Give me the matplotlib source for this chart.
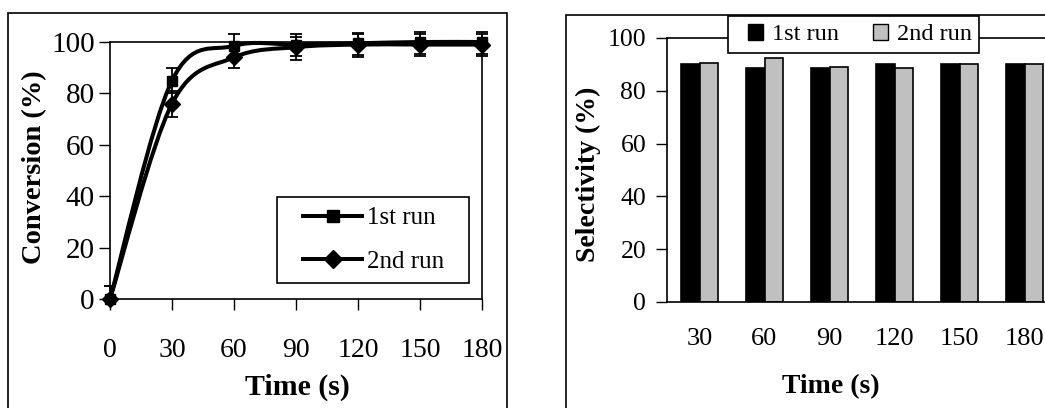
import numpy as np
import matplotlib
matplotlib.use("Agg")
import matplotlib.pyplot as plt
from matplotlib.path import Path
from matplotlib.patches import PathPatch, Rectangle, Patch
from matplotlib.lines import Line2D

plt.rcParams['font.family'] = ['Liberation Serif', 'DejaVu Serif']

# conversion data (left panel)
time_s = [0, 30, 60, 90, 120, 150, 180]
conv_run1 = [0, 85, 98.5, 99, 99.5, 100, 100]
conv_run2 = [0, 76, 94, 98, 99, 99, 99]
err1_lo = [0, 5, 4.5, 4.5, 4.5, 4.5, 4.5]
err1_hi = [5, 5, 4.5, 4, 4, 4, 4]
err2_lo = [0, 5, 4, 5, 5, 4.5, 4.5]
err2_hi = [5, 5, 4, 4, 4, 4, 4]

# selectivity data (right panel)
sel_labels = ['30', '60', '90', '120', '150', '180']
sel_run1 = [90, 88.5, 88.5, 90, 90, 90]
sel_run2 = [90.5, 92.5, 89, 88.5, 90, 90]

W, H = 1045, 408
fig = plt.figure(figsize=(W / 100, H / 100), dpi=100)


def smooth_path(xs, ys):
    # excel style smoothed line: cubic bezier through the points
    pts = np.column_stack([xs, ys]).astype(float)
    n = len(pts)
    verts = [pts[0]]
    codes = [Path.MOVETO]
    for i in range(n - 1):
        p_prev = pts[max(i - 1, 0)]
        p0 = pts[i]
        p1 = pts[i + 1]
        p_next = pts[min(i + 2, n - 1)]
        c1 = p0 + (p1 - p_prev) / 6
        c2 = p1 - (p_next - p0) / 6
        verts += [c1, c2, p1]
        codes += [Path.CURVE4] * 3
    return Path(verts, codes)


def px_axes(x0, y0, x1, y1):
    return fig.add_axes([x0 / W, 1 - y1 / H, (x1 - x0) / W, (y1 - y0) / H])


def px_box(x0, y0, x1, y1, **kw):
    # rectangle given in pixel coords (origin top left)
    r = Rectangle((x0 / W, 1 - y1 / H), (x1 - x0) / W, (y1 - y0) / H,
                  transform=fig.transFigure, ec='black', lw=1.2, clip_on=False, **kw)
    fig.patches.append(r)
    return r


# outer frames
px_box(8, 13, 507, 450, fill=False)
px_box(566, 15, 1200, 450, fill=False)

# ---- left: conversion ----
ax1 = px_axes(110, 42, 482, 299)
for ys in (conv_run1, conv_run2):
    ax1.add_patch(PathPatch(smooth_path(time_s, ys), fc='none', ec='black', lw=2.9,
                            clip_on=False, zorder=3))
ax1.errorbar(time_s, conv_run1, yerr=[err1_lo, err1_hi], fmt='s', color='black', ms=7.5,
             elinewidth=1.3, capsize=4, capthick=1.3, clip_on=False, zorder=4)
ax1.errorbar(time_s, conv_run2, yerr=[err2_lo, err2_hi], fmt='D', color='black', ms=8.5,
             elinewidth=1.3, capsize=4, capthick=1.3, clip_on=False, zorder=4)
ax1.set_xlim(0, 180)
ax1.set_ylim(0, 100)
ax1.set_xticks(time_s)
ax1.set_yticks([0, 20, 40, 60, 80, 100])
ax1.tick_params(axis='x', direction='out', length=8, width=1, pad=20, labelsize=20)
ax1.tick_params(axis='y', direction='out', length=8, width=1, pad=3, labelsize=21)
for s in ax1.spines.values():
    s.set_linewidth(1.2)
ax1.set_ylabel('Conversion (%)', fontsize=20.5, fontweight='bold', va='center')
ax1.yaxis.set_label_coords(-0.2016, 0.514)
ax1.set_xlabel('Time (s)', fontsize=21.5, fontweight='bold', va='center')
ax1.xaxis.set_label_coords(0.505, -0.342)

px_box(277, 197, 469, 283, fc='white')
handles1 = [Line2D([], [], color='black', lw=2.9, marker='s', ms=8),
            Line2D([], [], color='black', lw=2.9, marker='D', ms=9)]
fig.legend(handles1, ['1st run', '2nd run'], loc='center left',
           bbox_to_anchor=(303 / W, 1 - 240 / H), bbox_transform=fig.transFigure,
           fontsize=18, frameon=False, handlelength=2.36, borderaxespad=0, borderpad=0,
           labelspacing=0.85, handletextpad=0.2)

# ---- right: selectivity ----
ax2 = px_axes(667, 38, 1057, 302)
x = np.arange(len(sel_labels))
bw = 1 / 3.5
ax2.bar(x - bw / 2, sel_run1, bw, color='black', edgecolor='black', lw=1.2, label='1st run')
ax2.bar(x + bw / 2, sel_run2, bw, color='#C0C0C0', edgecolor='black', lw=1.2, label='2nd run')
ax2.set_xlim(-0.5, len(sel_labels) - 0.5)
ax2.set_ylim(0, 100)
ax2.set_xticks(x)
ax2.set_xticklabels(sel_labels)
ax2.set_yticks([0, 20, 40, 60, 80, 100])
ax2.tick_params(axis='x', length=0, pad=19, labelsize=19)
ax2.tick_params(axis='y', direction='out', length=8, width=1, pad=7, labelsize=18.5)
for s in ax2.spines.values():
    s.set_linewidth(1.2)
ax2.set_ylabel('Selectivity (%)', fontsize=20, fontweight='bold', va='center')
ax2.yaxis.set_label_coords(-0.2026, 0.485)
ax2.set_xlabel('Time (s)', fontsize=20, fontweight='bold', va='center')
ax2.xaxis.set_label_coords(0.4205, -0.322)

px_box(728, 16, 979, 53, fc='white')
handles2 = [Patch(fc='black', ec='black', lw=1), Patch(fc='#C0C0C0', ec='black', lw=1)]
fig.legend(handles2, ['1st run', '2nd run'], loc='center left', ncol=2,
           bbox_to_anchor=(748 / W, 1 - 34.5 / H), bbox_transform=fig.transFigure,
           fontsize=17.5, frameon=False, handlelength=0.62, handleheight=0.62,
           borderaxespad=0, borderpad=0, handletextpad=0.37, columnspacing=1.4)

fig.savefig('out.png', dpi=100)
